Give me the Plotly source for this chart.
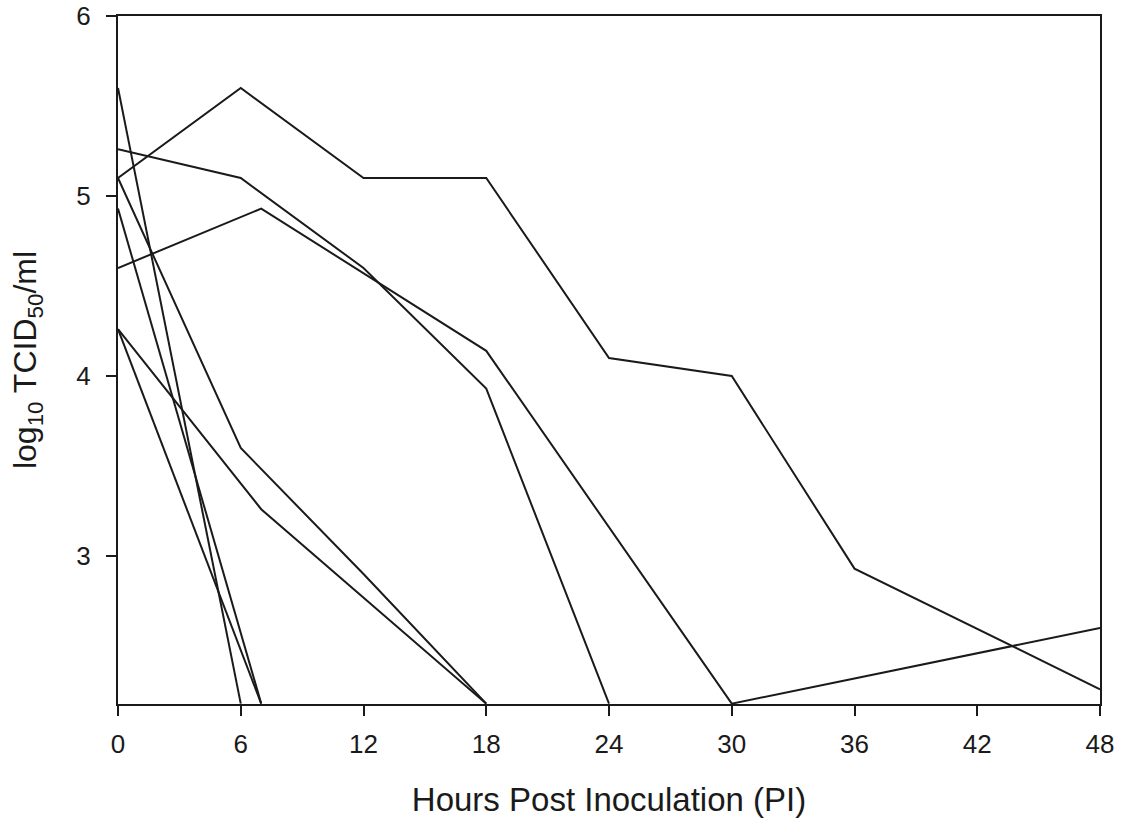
import plotly.graph_objects as go

# Hours post inoculation and log10 TCID50/ml for each sample
x_a = [0, 6, 12, 18, 24, 30, 36, 48]
y_a = [5.1, 5.6, 5.1, 5.1, 4.1, 4.0, 2.93, 2.26]
x_b = [0, 6, 12, 18, 24]
y_b = [5.26, 5.1, 4.6, 3.93, 2.18]
x_c = [0, 7, 18, 30, 48]
y_c = [4.6, 4.93, 4.14, 2.18, 2.6]
x_d = [0, 6, 12, 18]
y_d = [5.1, 3.6, 2.9, 2.18]
x_e = [0, 7, 18]
y_e = [4.26, 3.26, 2.18]
x_f = [0, 7]
y_f = [4.93, 2.18]
x_g = [0, 7]
y_g = [4.26, 2.18]
x_h = [0, 6]
y_h = [5.6, 2.18]

series = [(x_a, y_a), (x_b, y_b), (x_c, y_c), (x_d, y_d),
          (x_e, y_e), (x_f, y_f), (x_g, y_g), (x_h, y_h)]

x_ticks = [0, 6, 12, 18, 24, 30, 36, 42, 48]
y_ticks = [3, 4, 5, 6]

fig = go.Figure()
for xs, ys in series:
    fig.add_trace(go.Scatter(x=xs, y=ys, mode="lines",
                             line=dict(color="#1a1a1a", width=2),
                             showlegend=False, cliponaxis=True))

font = "Liberation Sans, Arial, sans-serif"
fig.update_layout(
    width=1126, height=821,
    margin=dict(l=118, r=26, t=16, b=117),
    paper_bgcolor="white", plot_bgcolor="white",
    font=dict(family=font, color="#1a1a1a"),
    xaxis=dict(range=[0, 48], tickvals=x_ticks, ticks="outside", ticklen=10,
               tickwidth=1.5, tickcolor="#1a1a1a", automargin=False,
               showline=True, linecolor="#1a1a1a", linewidth=2, mirror=True,
               showgrid=False, zeroline=False,
               tickfont=dict(size=26), ticklabelstandoff=6,
               title=dict(text="Hours Post Inoculation (PI)", font=dict(size=33), standoff=30)),
    yaxis=dict(range=[2.178, 6], tickvals=y_ticks, ticks="outside", ticklen=10,
               tickwidth=1.5, tickcolor="#1a1a1a", automargin=False,
               showline=True, linecolor="#1a1a1a", linewidth=2, mirror=True,
               showgrid=False, zeroline=False,
               tickfont=dict(size=26), ticklabelstandoff=10,
               title=dict(text="log<sub>10</sub> TCID<sub>50</sub>/ml", font=dict(size=32), standoff=30)),
)

fig.write_html("out.html", config={"displayModeBar": False},
               post_script="document.body.style.margin='0';document.body.style.padding='0';")
